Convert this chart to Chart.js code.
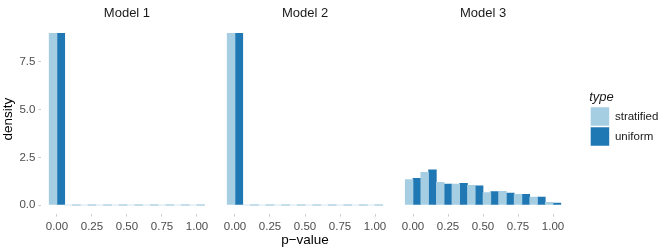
<!DOCTYPE html>
<html>
<head>
<meta charset="utf-8">
<script src="https://cdn.jsdelivr.net/npm/chart.js@4/dist/chart.umd.min.js"></script>
<style>
  html, body { margin: 0; padding: 0; background: #fff; }
</style>
</head>
<body>
<canvas id="grafico" width="664" height="249"></canvas>
<script>
// facets, bins (centres, width 1/9) and axis ticks
const models = ['Model 1', 'Model 2', 'Model 3'];
const binCenters = [0, 0.1111, 0.2222, 0.3333, 0.4444, 0.5556, 0.6667, 0.7778, 0.8889, 1];
const xTicks = [0, 0.25, 0.5, 0.75, 1];
const yTicks = [0, 2.5, 5, 7.5];

// density per bin
const stratified1 = [9, 0, 0, 0, 0, 0, 0, 0, 0, 0];
const uniform1    = [9, 0, 0, 0, 0, 0, 0, 0, 0, 0];
const stratified2 = [9, 0, 0, 0, 0, 0, 0, 0, 0, 0];
const uniform2    = [9, 0, 0, 0, 0, 0, 0, 0, 0, 0];
const stratified3 = [1.33, 1.71, 1.19, 1.10, 1.03, 0.65, 0.72, 0.56, 0.42, 0.14];
const uniform3    = [1.40, 1.84, 1.10, 1.14, 1.01, 0.70, 0.63, 0.56, 0.42, 0.10];

const stratified = [stratified1, stratified2, stratified3];
const uniform = [uniform1, uniform2, uniform3];

// each facet sits on one shared linear axis, shifted by a fixed step
const shift = 1.2714;
const xMin = -0.1111;
const xMax = 2 * shift + 1.1111;

function serie(lista) {
  const pts = [];
  lista.forEach((vals, k) => {
    vals.forEach((v, i) => pts.push({ x: binCenters[i] + k * shift, y: v }));
  });
  return pts;
}

const panelOf = v => Math.floor((v + 0.15) / shift);

Chart.defaults.font.family = '"Liberation Sans", Arial, sans-serif';

const ctx = document.getElementById('grafico').getContext('2d');

const chart = new Chart(ctx, {
  type: 'bar',
  data: {
    datasets: [
      {
        label: 'stratified',
        data: serie(stratified),
        backgroundColor: '#a6cee3',
        xAxisID: 'x',
        yAxisID: 'y'
      },
      {
        label: 'uniform',
        data: serie(uniform),
        backgroundColor: '#1f78b4',
        xAxisID: 'x',
        yAxisID: 'y'
      }
    ]
  },
  options: {
    responsive: false,
    animation: false,
    layout: { padding: 0 },
    datasets: {
      bar: { categoryPercentage: 1, barPercentage: 1, borderWidth: 0 }
    },
    plugins: {
      tooltip: { enabled: false },
      legend: {
        position: 'right',
        align: 'center',
        fullSize: false,
        maxWidth: 74.8,
        title: {
          display: true,
          text: 'type',
          position: 'start',
          color: '#1a1a1a',
          font: { size: 13, style: 'italic', lineHeight: 1 },
          padding: { top: 0, bottom: 1.7 }
        },
        labels: {
          boxWidth: 18.5,
          boxHeight: 18.5,
          padding: 1.5,
          color: '#1a1a1a',
          font: { size: 11.5 }
        }
      }
    },
    scales: {
      x: {
        type: 'linear',
        position: 'bottom',
        min: xMin,
        max: xMax,
        offset: false,
        afterBuildTicks: s => {
          s.ticks = [];
          models.forEach((m, k) => xTicks.forEach(t => s.ticks.push({ value: t + k * shift })));
        },
        afterFit: s => { s.height = 35.4; },
        ticks: {
          autoSkip: false,
          maxRotation: 0,
          padding: 3,
          color: '#4d4d4d',
          font: { size: 11.5 },
          callback: v => (v - panelOf(v) * shift).toFixed(2)
        },
        grid: { offset: false, drawOnChartArea: false, tickLength: 3, color: '#cccccc' },
        border: { display: false },
        title: {
          display: true,
          text: 'p\u2212value',
          color: '#000',
          font: { size: 13.5 },
          padding: { top: 0, bottom: 1 }
        }
      },
      strip: {
        type: 'linear',
        position: 'top',
        min: xMin,
        max: xMax,
        offset: false,
        afterBuildTicks: s => {
          s.ticks = models.map((m, k) => ({ value: 0.5 + k * shift }));
        },
        afterFit: s => { s.height = 24.8; },
        ticks: {
          autoSkip: false,
          maxRotation: 0,
          padding: 4,
          color: '#1a1a1a',
          font: { size: 13 },
          callback: v => models[panelOf(v)]
        },
        grid: { offset: false, display: false, drawTicks: false },
        border: { display: false }
      },
      y: {
        type: 'linear',
        position: 'left',
        min: -0.45,
        max: 9.45,
        afterBuildTicks: s => { s.ticks = yTicks.map(v => ({ value: v })); },
        afterFit: s => { s.width = 41.4; },
        ticks: {
          padding: 3,
          color: '#4d4d4d',
          font: { size: 11.5 },
          callback: v => v.toFixed(1)
        },
        grid: { drawOnChartArea: false, tickLength: 3, color: '#cccccc' },
        border: { display: false },
        title: {
          display: true,
          text: 'density',
          color: '#000',
          font: { size: 13.5 },
          padding: 0
        }
      },
      spacer: {
        type: 'linear',
        position: 'right',
        afterFit: s => { s.width = 20.6; },
        ticks: { display: false },
        grid: { display: false, drawTicks: false },
        border: { display: false }
      }
    }
  }
});
</script>
</body>
</html>
